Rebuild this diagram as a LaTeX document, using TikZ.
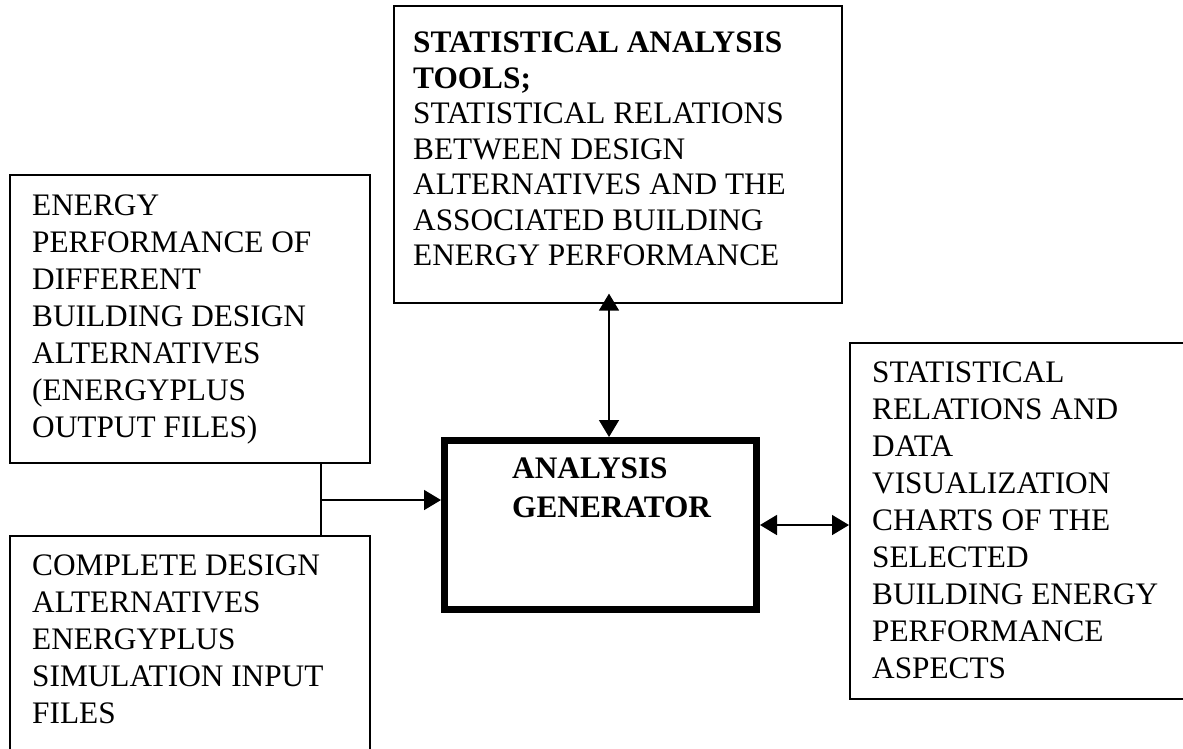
\documentclass[tikz,border=0pt]{standalone}
\usepackage{fontspec}
\setmainfont{Liberation Serif}
\usetikzlibrary{arrows.meta}
\begin{document}
\begin{tikzpicture}[x=1pt,y=-1pt,
  box/.style={draw,line width=1.6pt,rectangle,inner sep=0pt,anchor=north west},
  genbox/.style={draw,line width=7pt,rectangle,inner sep=0pt,anchor=north west},
  txt/.style={anchor=north west,inner sep=0pt,align=left,font=\fontsize{31.3}{37}\selectfont},
  link/.style={line width=1.6pt},
  head/.tip={Triangle[length=17pt,width=20pt]},
]
\useasboundingbox (0,0) rectangle (1183,748);
\begin{scope}
\clip (0,0) rectangle (1183,748);
% boxes
\node[box,minimum width=448pt,minimum height=297pt] (top) at (393,5) {};
\node[box,minimum width=360pt,minimum height=288pt] (lt) at (9,174) {};
\node[box,minimum width=360pt,minimum height=240pt] (lb) at (9,535) {};
\node[genbox,minimum width=312pt,minimum height=169pt] (gen) at (441,437) {};
\node[box,minimum width=345pt,minimum height=356pt] (rt) at (849,342) {};
\end{scope}
% texts
\node[txt,font=\fontsize{31.3}{35.5}\selectfont] (toptext) at (413,32) {\textbf{STATISTICAL ANALYSIS}\\\textbf{TOOLS;}\\STATISTICAL RELATIONS\\BETWEEN DESIGN\\ALTERNATIVES AND THE\\ASSOCIATED BUILDING\\ENERGY PERFORMANCE};
\node[txt] (lttext) at (32,195) {ENERGY\\PERFORMANCE OF\\DIFFERENT\\BUILDING DESIGN\\ALTERNATIVES\\(ENERGYPLUS\\OUTPUT FILES)};
\node[txt] (lbtext) at (32,555) {COMPLETE DESIGN\\ALTERNATIVES\\ENERGYPLUS\\SIMULATION INPUT\\FILES};
\node[txt,font=\bfseries\fontsize{31.3}{39}\selectfont] (gentext) at (512,458) {ANALYSIS\\GENERATOR};
\node[txt] (rttext) at (872,362) {STATISTICAL\\RELATIONS AND\\DATA\\VISUALIZATION\\CHARTS OF THE\\SELECTED\\BUILDING ENERGY\\PERFORMANCE\\ASPECTS};
% connectors
\coordinate (vx) at (609,0);
\coordinate (jn) at (321,500);
\draw[link,{head}-{head},shorten <=-10pt] (top.south -| vx) -- (gen.north -| vx);
\draw[link,{head}-{head}] (gen.east) -- (rt.west |- gen.east);
\draw[link] (lt.south -| jn) -- (lb.north -| jn);
\draw[link,-{head}] (jn) -- (gen.west |- jn);
\end{tikzpicture}
\end{document}
